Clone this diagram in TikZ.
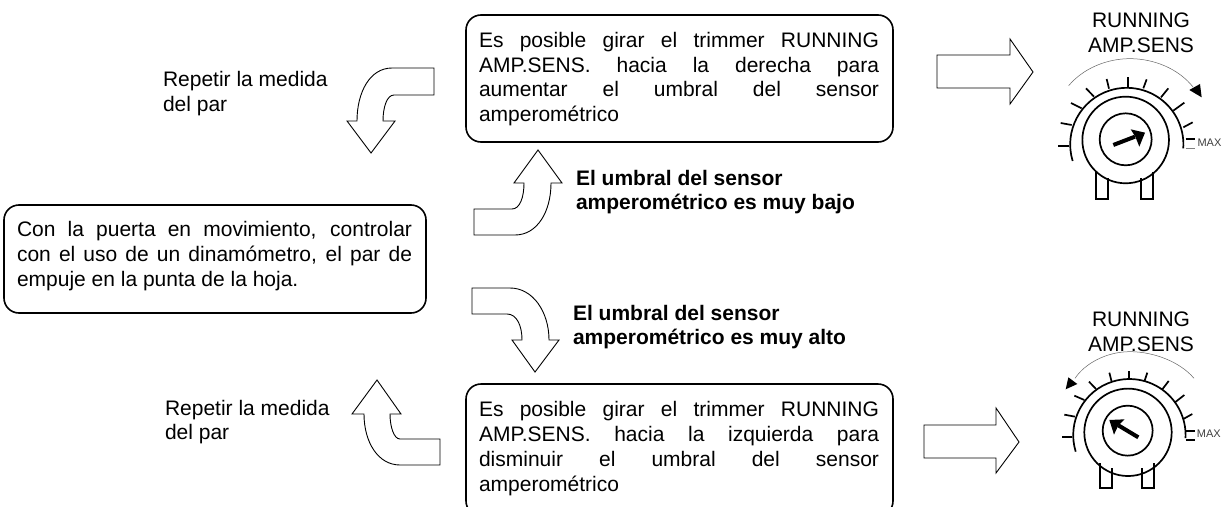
\documentclass[tikz,border=0pt]{standalone}
\usepackage{fontspec}
\setmainfont{Liberation Sans}
\newcommand{\firstline}{\rule{0pt}{15pt}}
\begin{document}
\begin{tikzpicture}[x=1pt,y=-1pt,
  body/.style={font=\fontsize{21}{24.7}\selectfont,inner sep=0pt,outer sep=0pt},
  para/.style={body,text width=#1,align=justify,anchor=north west},
  free/.style={body,align=left,anchor=north west},
  strong/.style={font=\fontsize{21}{24.5}\selectfont\bfseries,inner sep=0pt,outer sep=0pt,align=left,anchor=north west},
  rbox/.style={draw=black,line width=1.6pt,rounded corners=15pt},
  block/.style={draw=black,line width=0.9pt,fill=white,line join=miter},
  knobtitle/.style={font=\fontsize{21}{25}\selectfont,align=center,inner sep=0pt,anchor=north},
  maxlabel/.style={font=\fontsize{11}{13}\selectfont,text=black!75,inner sep=0pt,anchor=base west},
  kl/.style={line width=1.7pt,line cap=butt},
  thin arc/.style={draw=black!60,line width=0.5pt}]
\useasboundingbox (0,0) rectangle (1222,506);
\fill[white] (0,0) rectangle (1222,506);
% boxes
\draw[rbox] (466,15) rectangle (893,142);
\draw[rbox] (4,205) rectangle (426,313);
\begin{scope}
\clip (450,375) rectangle (910,506);
\draw[rbox] (466,384) rectangle (893,516);
\end{scope}
\node[para=400pt] (t1) at (479,32.3) {\firstline Es posible girar el trimmer RUNNING\linebreak AMP.SENS. hacia la derecha para\linebreak aumentar el umbral del sensor\linebreak amperométrico};
\node[para=395pt] (t2) at (17,221.7) {\firstline Con la puerta en movimiento, controlar\linebreak con el uso de un dinamómetro, el par de\linebreak empuje en la punta de la hoja.};
\node[para=400pt] (t3) at (479,401.7) {\firstline Es posible girar el trimmer RUNNING\linebreak AMP.SENS. hacia la izquierda para\linebreak disminuir el umbral del sensor\linebreak amperométrico};
\node[free] (r1) at (163,71.7) {\firstline Repetir la medida\\del par};
\node[free] (r2) at (165,400) {\firstline Repetir la medida\\del par};
\node[strong] (b1) at (576,170) {\firstline El umbral del sensor\\amperométrico es muy bajo};
\node[strong] (b2) at (573,305) {\firstline El umbral del sensor\\amperométrico es muy alto};
% block arrows
\draw[block] (434,68) -- (392,68) .. controls (370,68) and (357,92) .. (357,121) -- (347,121) -- (371,153) -- (395,121) -- (383,121) .. controls (383,107) and (387,95) .. (394,95) -- (434,95) -- cycle;
\draw[block] (474,209) -- (512,209) .. controls (520,209) and (524,197) .. (524,183) -- (514,183) -- (538,150) -- (562,183) -- (551,183) .. controls (551,212) and (537,235) .. (515,235) -- (474,235) -- cycle;
\draw[block] (472,288) -- (510,288) .. controls (533,288) and (549,312) .. (549,340) -- (559,340) -- (535,372) -- (512,340) -- (522,340) .. controls (522,326) and (517,314) .. (507,314) -- (472,314) -- cycle;
\draw[block] (440,439) -- (400,439) .. controls (394,439) and (390,427) .. (390,414) -- (401,414) -- (377,380) -- (352,414) -- (364,414) .. controls (364,442) and (378,465) .. (400,465) -- (440,465) -- cycle;
\draw[block] (937,55) -- (1010,55) -- (1010,39) -- (1033,72) -- (1010,104) -- (1010,88) -- (937,88) -- cycle;
\draw[block] (924,425) -- (996,425) -- (996,408) -- (1019,442) -- (996,473) -- (996,458) -- (924,458) -- cycle;
% top knob
\node[knobtitle] (k1) at (1141,12) {\firstline RUNNING\\AMP.SENS};
\begin{scope}[shift={(1020,0)},x=0.3333pt,y=-0.3333pt]
\draw[kl] (158,483) arc[start angle=197,end angle=-4,radius=56.6pt];
\draw[kl] (317,420) circle[radius=43.3pt];
\draw[kl] (317,418) circle[radius=26pt];
\foreach \a/\b/\c/\d in {497/418/525/418,490/382/518/367,460/332/493/308,423/292/445/265,370/265/380/238,324/260/324/232,267/266/260/237,222/290/198/265,185/325/153/309,155/375/122/369,147/439/113/439}
  \draw[kl] (\a,\b) -- (\c,\d);
\draw[black!50,line width=0.5pt] (497,445) -- (525,445);
\draw[kl] (228,515) -- (228,597) -- (265,597) -- (265,535);
\draw[kl] (363,535) -- (363,597) -- (400,597) -- (400,515);
\draw[line width=4pt] (280,435) -- (345,410);
\fill (375,398) -- (332,388) -- (346,410) -- (358,440) -- cycle;
\draw[thin arc] (146,257) .. controls (190,205) and (260,176) .. (330,176) .. controls (400,176) and (475,205) .. (520,262);
\fill (508,270) -- (540,252) -- (545,292) -- cycle;
\node[maxlabel] (m1) at (532,440) {MAX};
\end{scope}
% bottom knob
\node[knobtitle] (k2) at (1141,311) {\firstline RUNNING\\AMP.SENS};
\begin{scope}[shift={(1020,300)},x=0.3333pt,y=-0.3333pt]
\draw[kl] (167,455) arc[start angle=197,end angle=-3,radius=56.2pt];
\draw[kl] (324,397) circle[radius=43.7pt];
\draw[kl] (323,392) circle[radius=25pt];
\foreach \a/\b/\c/\d in {497/392/525/392,490/357/517/342,465/307/493/285,427/268/446/243,373/245/382/218,328/240/328/212,275/245/268/218,228/267/207/245,193/300/163/287,165/350/133/344,157/412/125/412,497/420/525/420}
  \draw[kl] (\a,\b) -- (\c,\d);
\draw[kl] (240,490) -- (240,565) -- (277,565) -- (277,505);
\draw[kl] (367,505) -- (367,565) -- (403,565) -- (403,490);
\draw[line width=4pt] (355,412) -- (295,376);
\fill (268,360) -- (314,358) -- (295,376) -- (282,404) -- cycle;
\draw[thin arc] (522,235) .. controls (480,185) and (400,155) .. (330,155) .. controls (260,155) and (195,190) .. (165,235);
\fill (145,232) -- (137,268) -- (172,252) -- cycle;
\node[maxlabel] (m2) at (530,414) {MAX};
\end{scope}
\end{tikzpicture}
\end{document}
